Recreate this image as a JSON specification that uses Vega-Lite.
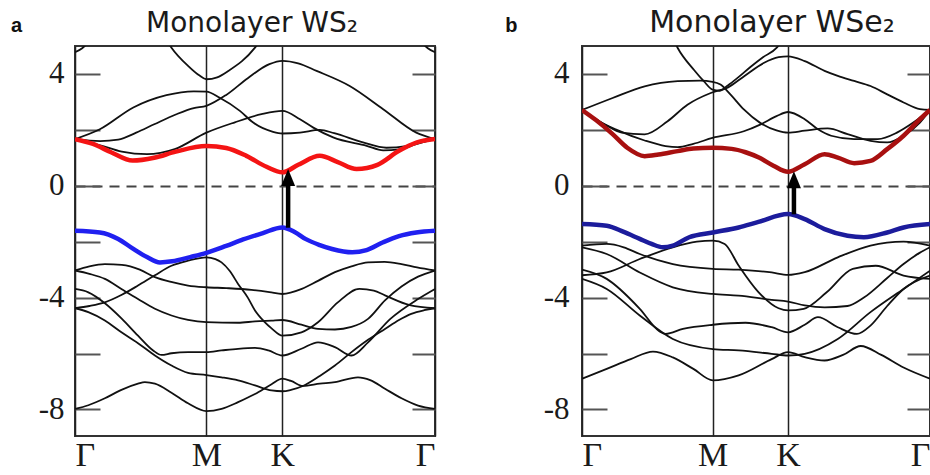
{
  "$schema": "https://vega.github.io/schema/vega-lite/v6.json",
  "background": "white",
  "padding": {"left": 9, "top": 7, "right": 0, "bottom": 0},
  "spacing": 66,
  "config": {
    "view": {"stroke": "#333333", "strokeWidth": 2},
    "title": {"font": "DejaVu Sans", "fontWeight": "normal", "color": "#1a1a1a", "anchor": "middle"},
    "axis": {"labelFont": "Liberation Serif", "labelColor": "#1a1a1a", "titleFont": "Liberation Sans", "titleFontWeight": "bold", "titleFontSize": 20, "titleColor": "#111111", "titleAngle": 0, "titleAlign": "left", "titleBaseline": "alphabetic"},
    "axisX": {"labelFlush": true, "labelFontSize": 34, "labelPadding": 2, "ticks": false, "domain": false, "grid": true, "gridColor": "#222222", "gridWidth": 1.5, "gridOpacity": 1, "title": null}
  },
  "hconcat": [
    {
      "width": 360,
      "height": 390,
      "title": {"text": "Monolayer WS₂", "fontSize": 28, "offset": -23, "dx": -3},
      "data": {"values": [
        {"b":"R","t":"r","k":0,"E":1.67},{"b":"R","t":"r","k":0.05,"E":1.5},{"b":"R","t":"r","k":0.1,"E":1.2},{"b":"R","t":"r","k":0.16,"E":0.9},{"b":"R","t":"r","k":0.22,"E":1.0},{"b":"R","t":"r","k":0.28,"E":1.22},{"b":"R","t":"r","k":0.365,"E":1.42},{"b":"R","t":"r","k":0.42,"E":1.35},{"b":"R","t":"r","k":0.476,"E":1.07},{"b":"R","t":"r","k":0.532,"E":0.68},{"b":"R","t":"r","k":0.576,"E":0.48},{"b":"R","t":"r","k":0.62,"E":0.75},{"b":"R","t":"r","k":0.68,"E":1.07},{"b":"R","t":"r","k":0.73,"E":0.85},{"b":"R","t":"r","k":0.782,"E":0.6},{"b":"R","t":"r","k":0.84,"E":0.75},{"b":"R","t":"r","k":0.9,"E":1.25},{"b":"R","t":"r","k":0.95,"E":1.55},{"b":"R","t":"r","k":1,"E":1.67},
        {"b":"A","t":"k","k":0,"E":1.67},{"b":"A","t":"k","k":0.069,"E":2.02},{"b":"A","t":"k","k":0.162,"E":2.8},{"b":"A","t":"k","k":0.254,"E":3.24},{"b":"A","t":"k","k":0.33,"E":3.38},{"b":"A","t":"k","k":0.365,"E":3.37},{"b":"A","t":"k","k":0.402,"E":3.15},{"b":"A","t":"k","k":0.458,"E":2.68},{"b":"A","t":"k","k":0.495,"E":2.26},{"b":"A","t":"k","k":0.55,"E":1.93},{"b":"A","t":"k","k":0.576,"E":1.87},{"b":"A","t":"k","k":0.625,"E":1.9},{"b":"A","t":"k","k":0.68,"E":2.0},{"b":"A","t":"k","k":0.72,"E":1.88},{"b":"A","t":"k","k":0.8,"E":1.55},{"b":"A","t":"k","k":0.865,"E":1.36},{"b":"A","t":"k","k":0.92,"E":1.42},{"b":"A","t":"k","k":0.96,"E":1.55},{"b":"A","t":"k","k":1,"E":1.67},
        {"b":"B","t":"k","k":0,"E":1.67},{"b":"B","t":"k","k":0.07,"E":1.6},{"b":"B","t":"k","k":0.12,"E":1.65},{"b":"B","t":"k","k":0.17,"E":1.9},{"b":"B","t":"k","k":0.22,"E":2.2},{"b":"B","t":"k","k":0.28,"E":2.55},{"b":"B","t":"k","k":0.33,"E":2.78},{"b":"B","t":"k","k":0.365,"E":2.86},{"b":"B","t":"k","k":0.42,"E":3.25},{"b":"B","t":"k","k":0.48,"E":3.85},{"b":"B","t":"k","k":0.54,"E":4.35},{"b":"B","t":"k","k":0.576,"E":4.47},{"b":"B","t":"k","k":0.62,"E":4.38},{"b":"B","t":"k","k":0.671,"E":4.11},{"b":"B","t":"k","k":0.763,"E":3.57},{"b":"B","t":"k","k":0.856,"E":2.74},{"b":"B","t":"k","k":0.948,"E":1.9},{"b":"B","t":"k","k":1,"E":1.67},
        {"b":"C","t":"k","k":0,"E":1.67},{"b":"C","t":"k","k":0.07,"E":1.45},{"b":"C","t":"k","k":0.13,"E":1.22},{"b":"C","t":"k","k":0.2,"E":1.13},{"b":"C","t":"k","k":0.277,"E":1.31},{"b":"C","t":"k","k":0.365,"E":1.9},{"b":"C","t":"k","k":0.444,"E":2.27},{"b":"C","t":"k","k":0.518,"E":2.56},{"b":"C","t":"k","k":0.576,"E":2.68},{"b":"C","t":"k","k":0.625,"E":2.38},{"b":"C","t":"k","k":0.662,"E":2.08},{"b":"C","t":"k","k":0.717,"E":1.73},{"b":"C","t":"k","k":0.81,"E":1.43},{"b":"C","t":"k","k":0.856,"E":1.27},{"b":"C","t":"k","k":0.9,"E":1.3},{"b":"C","t":"k","k":0.948,"E":1.49},{"b":"C","t":"k","k":1,"E":1.67},
        {"b":"P","t":"k","k":0.25,"E":5.3},{"b":"P","t":"k","k":0.268,"E":4.94},{"b":"P","t":"k","k":0.314,"E":4.29},{"b":"P","t":"k","k":0.345,"E":3.95},{"b":"P","t":"k","k":0.365,"E":3.81},{"b":"P","t":"k","k":0.395,"E":3.88},{"b":"P","t":"k","k":0.426,"E":4.11},{"b":"P","t":"k","k":0.5,"E":4.94},{"b":"P","t":"k","k":0.52,"E":5.3},
        {"b":"TL","t":"k","k":0,"E":4.78},{"b":"TL","t":"k","k":0.02,"E":4.92},{"b":"TL","t":"k","k":0.035,"E":5.1},
        {"b":"TR","t":"k","k":0.965,"E":5.1},{"b":"TR","t":"k","k":0.98,"E":4.92},{"b":"TR","t":"k","k":1,"E":4.78},
        {"b":"U","t":"u","k":0,"E":-1.61},{"b":"U","t":"u","k":0.069,"E":-1.67},{"b":"U","t":"u","k":0.12,"E":-1.9},{"b":"U","t":"u","k":0.162,"E":-2.26},{"b":"U","t":"u","k":0.2,"E":-2.55},{"b":"U","t":"u","k":0.236,"E":-2.74},{"b":"U","t":"u","k":0.27,"E":-2.7},{"b":"U","t":"u","k":0.32,"E":-2.55},{"b":"U","t":"u","k":0.365,"E":-2.4},{"b":"U","t":"u","k":0.42,"E":-2.15},{"b":"U","t":"u","k":0.467,"E":-1.92},{"b":"U","t":"u","k":0.52,"E":-1.7},{"b":"U","t":"u","k":0.576,"E":-1.49},{"b":"U","t":"u","k":0.61,"E":-1.65},{"b":"U","t":"u","k":0.64,"E":-1.9},{"b":"U","t":"u","k":0.68,"E":-2.12},{"b":"U","t":"u","k":0.714,"E":-2.26},{"b":"U","t":"u","k":0.77,"E":-2.38},{"b":"U","t":"u","k":0.81,"E":-2.3},{"b":"U","t":"u","k":0.856,"E":-2.02},{"b":"U","t":"u","k":0.9,"E":-1.8},{"b":"U","t":"u","k":0.948,"E":-1.67},{"b":"U","t":"u","k":1,"E":-1.61},
        {"b":"V2","t":"k","k":0,"E":-3.03},{"b":"V2","t":"k","k":0.04,"E":-2.88},{"b":"V2","t":"k","k":0.083,"E":-2.8},{"b":"V2","t":"k","k":0.13,"E":-2.83},{"b":"V2","t":"k","k":0.18,"E":-3.0},{"b":"V2","t":"k","k":0.222,"E":-3.27},{"b":"V2","t":"k","k":0.27,"E":-3.45},{"b":"V2","t":"k","k":0.314,"E":-3.57},{"b":"V2","t":"k","k":0.365,"E":-3.63},{"b":"V2","t":"k","k":0.42,"E":-3.66},{"b":"V2","t":"k","k":0.49,"E":-3.72},{"b":"V2","t":"k","k":0.54,"E":-3.8},{"b":"V2","t":"k","k":0.576,"E":-3.87},{"b":"V2","t":"k","k":0.63,"E":-3.69},{"b":"V2","t":"k","k":0.675,"E":-3.4},{"b":"V2","t":"k","k":0.722,"E":-3.09},{"b":"V2","t":"k","k":0.768,"E":-2.88},{"b":"V2","t":"k","k":0.814,"E":-2.74},{"b":"V2","t":"k","k":0.86,"E":-2.72},{"b":"V2","t":"k","k":0.907,"E":-2.8},{"b":"V2","t":"k","k":0.95,"E":-2.92},{"b":"V2","t":"k","k":1,"E":-3.03},
        {"b":"V3","t":"k","k":0,"E":-3.03},{"b":"V3","t":"k","k":0.04,"E":-3.15},{"b":"V3","t":"k","k":0.083,"E":-3.33},{"b":"V3","t":"k","k":0.13,"E":-3.7},{"b":"V3","t":"k","k":0.175,"E":-4.05},{"b":"V3","t":"k","k":0.222,"E":-4.4},{"b":"V3","t":"k","k":0.268,"E":-4.64},{"b":"V3","t":"k","k":0.314,"E":-4.8},{"b":"V3","t":"k","k":0.365,"E":-4.88},{"b":"V3","t":"k","k":0.453,"E":-4.9},{"b":"V3","t":"k","k":0.5,"E":-4.85},{"b":"V3","t":"k","k":0.546,"E":-4.82},{"b":"V3","t":"k","k":0.576,"E":-4.8},{"b":"V3","t":"k","k":0.629,"E":-4.97},{"b":"V3","t":"k","k":0.675,"E":-5.12},{"b":"V3","t":"k","k":0.722,"E":-5.14},{"b":"V3","t":"k","k":0.768,"E":-5.05},{"b":"V3","t":"k","k":0.814,"E":-4.76},{"b":"V3","t":"k","k":0.861,"E":-4.1},{"b":"V3","t":"k","k":0.907,"E":-3.6},{"b":"V3","t":"k","k":0.953,"E":-3.25},{"b":"V3","t":"k","k":1,"E":-3.03},
        {"b":"V4","t":"k","k":0,"E":-4.38},{"b":"V4","t":"k","k":0.04,"E":-4.3},{"b":"V4","t":"k","k":0.083,"E":-4.17},{"b":"V4","t":"k","k":0.13,"E":-3.9},{"b":"V4","t":"k","k":0.175,"E":-3.57},{"b":"V4","t":"k","k":0.222,"E":-3.2},{"b":"V4","t":"k","k":0.268,"E":-2.86},{"b":"V4","t":"k","k":0.314,"E":-2.68},{"b":"V4","t":"k","k":0.365,"E":-2.56},{"b":"V4","t":"k","k":0.39,"E":-2.62},{"b":"V4","t":"k","k":0.407,"E":-2.74},{"b":"V4","t":"k","k":0.43,"E":-3.05},{"b":"V4","t":"k","k":0.453,"E":-3.51},{"b":"V4","t":"k","k":0.48,"E":-4.0},{"b":"V4","t":"k","k":0.5,"E":-4.46},{"b":"V4","t":"k","k":0.525,"E":-4.85},{"b":"V4","t":"k","k":0.546,"E":-5.1},{"b":"V4","t":"k","k":0.576,"E":-5.36},{"b":"V4","t":"k","k":0.629,"E":-5.24},{"b":"V4","t":"k","k":0.675,"E":-4.88},{"b":"V4","t":"k","k":0.73,"E":-4.17},{"b":"V4","t":"k","k":0.79,"E":-3.69},{"b":"V4","t":"k","k":0.83,"E":-3.75},{"b":"V4","t":"k","k":0.861,"E":-3.92},{"b":"V4","t":"k","k":0.93,"E":-4.27},{"b":"V4","t":"k","k":1,"E":-4.38},
        {"b":"V5","t":"k","k":0,"E":-3.69},{"b":"V5","t":"k","k":0.037,"E":-3.81},{"b":"V5","t":"k","k":0.083,"E":-4.2},{"b":"V5","t":"k","k":0.129,"E":-4.74},{"b":"V5","t":"k","k":0.175,"E":-5.36},{"b":"V5","t":"k","k":0.218,"E":-5.9},{"b":"V5","t":"k","k":0.24,"E":-6.05},{"b":"V5","t":"k","k":0.268,"E":-5.99},{"b":"V5","t":"k","k":0.314,"E":-5.95},{"b":"V5","t":"k","k":0.365,"E":-5.95},{"b":"V5","t":"k","k":0.407,"E":-5.89},{"b":"V5","t":"k","k":0.453,"E":-5.83},{"b":"V5","t":"k","k":0.5,"E":-5.8},{"b":"V5","t":"k","k":0.537,"E":-5.89},{"b":"V5","t":"k","k":0.576,"E":-6.07},{"b":"V5","t":"k","k":0.629,"E":-5.83},{"b":"V5","t":"k","k":0.675,"E":-5.6},{"b":"V5","t":"k","k":0.722,"E":-5.77},{"b":"V5","t":"k","k":0.768,"E":-6.07},{"b":"V5","t":"k","k":0.814,"E":-5.6},{"b":"V5","t":"k","k":0.876,"E":-4.76},{"b":"V5","t":"k","k":0.953,"E":-4.05},{"b":"V5","t":"k","k":1,"E":-3.69},
        {"b":"V6","t":"k","k":0,"E":-4.38},{"b":"V6","t":"k","k":0.037,"E":-4.52},{"b":"V6","t":"k","k":0.083,"E":-4.82},{"b":"V6","t":"k","k":0.129,"E":-5.24},{"b":"V6","t":"k","k":0.175,"E":-5.63},{"b":"V6","t":"k","k":0.222,"E":-6.07},{"b":"V6","t":"k","k":0.268,"E":-6.43},{"b":"V6","t":"k","k":0.314,"E":-6.69},{"b":"V6","t":"k","k":0.365,"E":-6.77},{"b":"V6","t":"k","k":0.407,"E":-6.85},{"b":"V6","t":"k","k":0.453,"E":-6.96},{"b":"V6","t":"k","k":0.5,"E":-7.14},{"b":"V6","t":"k","k":0.546,"E":-7.32},{"b":"V6","t":"k","k":0.576,"E":-7.35},{"b":"V6","t":"k","k":0.6,"E":-7.3},{"b":"V6","t":"k","k":0.633,"E":-7.16},{"b":"V6","t":"k","k":0.68,"E":-6.8},{"b":"V6","t":"k","k":0.722,"E":-6.43},{"b":"V6","t":"k","k":0.768,"E":-5.95},{"b":"V6","t":"k","k":0.815,"E":-5.5},{"b":"V6","t":"k","k":0.861,"E":-5.12},{"b":"V6","t":"k","k":0.9,"E":-4.8},{"b":"V6","t":"k","k":0.934,"E":-4.58},{"b":"V6","t":"k","k":0.97,"E":-4.45},{"b":"V6","t":"k","k":1,"E":-4.38},
        {"b":"V7","t":"k","k":0,"E":-7.98},{"b":"V7","t":"k","k":0.037,"E":-7.85},{"b":"V7","t":"k","k":0.083,"E":-7.6},{"b":"V7","t":"k","k":0.129,"E":-7.3},{"b":"V7","t":"k","k":0.175,"E":-7.08},{"b":"V7","t":"k","k":0.194,"E":-7.02},{"b":"V7","t":"k","k":0.222,"E":-7.08},{"b":"V7","t":"k","k":0.268,"E":-7.4},{"b":"V7","t":"k","k":0.314,"E":-7.78},{"b":"V7","t":"k","k":0.365,"E":-8.06},{"b":"V7","t":"k","k":0.407,"E":-7.98},{"b":"V7","t":"k","k":0.453,"E":-7.74},{"b":"V7","t":"k","k":0.5,"E":-7.45},{"b":"V7","t":"k","k":0.546,"E":-7.1},{"b":"V7","t":"k","k":0.576,"E":-6.9},{"b":"V7","t":"k","k":0.6,"E":-6.98},{"b":"V7","t":"k","k":0.633,"E":-7.16},{"b":"V7","t":"k","k":0.68,"E":-7.08},{"b":"V7","t":"k","k":0.722,"E":-7.02},{"b":"V7","t":"k","k":0.786,"E":-6.85},{"b":"V7","t":"k","k":0.82,"E":-6.95},{"b":"V7","t":"k","k":0.861,"E":-7.26},{"b":"V7","t":"k","k":0.907,"E":-7.6},{"b":"V7","t":"k","k":0.953,"E":-7.86},{"b":"V7","t":"k","k":1,"E":-7.98}
      ]},
      "resolve": {"axis": {"y": "independent"}},
      "layer": [
        {
          "transform": [{"filter": "datum.t == 'k'"}],
          "mark": {"type": "line", "interpolate": "monotone", "color": "#111111", "strokeWidth": 1.8, "clip": true},
          "encoding": {
            "x": {"field": "k", "type": "quantitative", "scale": {"domain": [0, 1], "nice": false, "zero": false},
              "axis": {"values": [0, 0.365, 0.576, 1], "labelExpr": "datum.value == 0 || datum.value == 1 ? 'Γ' : (datum.value < 0.5 ? 'M' : 'K')"}},
            "y": {"field": "E", "type": "quantitative", "scale": {"domain": [-8.95, 5], "nice": false, "zero": false},
              "axis": {"orient": "left", "values": [-8, -6, -4, -2, 0, 2, 4], "labelExpr": "datum.value % 4 == 0 ? toString(datum.value) : ''", "labelFontSize": 31, "labelPadding": 36, "tickSize": -25, "tickWidth": 2, "tickColor": "#555555", "domain": false, "grid": true, "gridDash": [10, 7], "gridColor": "#444444", "gridWidth": 2, "gridOpacity": {"condition": {"test": "datum.value === 0", "value": 1}, "value": 0}, "title": "a", "titleX": -64.5, "titleY": -14.7}},
            "detail": {"field": "b"}
          }
        },
        {
          "transform": [{"filter": "datum.t == 'r'"}],
          "mark": {"type": "line", "interpolate": "monotone", "color": "#f41414", "strokeWidth": 4.5, "clip": true},
          "encoding": {
            "x": {"field": "k", "type": "quantitative", "scale": {"domain": [0, 1], "nice": false, "zero": false},
              "axis": {"values": [0, 0.365, 0.576, 1], "labelExpr": "datum.value == 0 || datum.value == 1 ? 'Γ' : (datum.value < 0.5 ? 'M' : 'K')"}},
            "y": {"field": "E", "type": "quantitative", "scale": {"domain": [-8.95, 5], "nice": false, "zero": false},
              "axis": {"orient": "right", "values": [-8, -6, -4, -2, 0, 2, 4], "labels": false, "tickSize": -23, "tickWidth": 2, "tickColor": "#555555", "domain": false, "grid": false, "title": null}}
          }
        },
        {
          "transform": [{"filter": "datum.t == 'u'"}],
          "mark": {"type": "line", "interpolate": "monotone", "color": "#2020f0", "strokeWidth": 4.5, "clip": true},
          "encoding": {
            "x": {"field": "k", "type": "quantitative", "scale": {"domain": [0, 1], "nice": false, "zero": false},
              "axis": {"values": [0, 0.365, 0.576, 1], "labelExpr": "datum.value == 0 || datum.value == 1 ? 'Γ' : (datum.value < 0.5 ? 'M' : 'K')"}},
            "y": {"field": "E", "type": "quantitative", "scale": {"domain": [-8.95, 5], "nice": false, "zero": false}, "axis": null}
          }
        },
        {
          "data": {"values": [{"k": 0.592, "E": -1.5, "E2": 0.05}]},
          "mark": {"type": "rule", "color": "#000000", "strokeWidth": 4.5},
          "encoding": {
            "x": {"field": "k", "type": "quantitative", "scale": {"domain": [0, 1], "nice": false, "zero": false},
              "axis": {"values": [0, 0.365, 0.576, 1], "labelExpr": "datum.value == 0 || datum.value == 1 ? 'Γ' : (datum.value < 0.5 ? 'M' : 'K')"}},
            "y": {"field": "E", "type": "quantitative", "scale": {"domain": [-8.95, 5], "nice": false, "zero": false}, "axis": null},
            "y2": {"field": "E2"}
          }
        },
        {
          "data": {"values": [{"k": 0.592, "E": 0.3}]},
          "mark": {"type": "point", "shape": "M0,-0.85L0.7,0.85L-0.7,0.85Z", "size": 400, "filled": true, "color": "#000000", "opacity": 1},
          "encoding": {
            "x": {"field": "k", "type": "quantitative", "scale": {"domain": [0, 1], "nice": false, "zero": false},
              "axis": {"values": [0, 0.365, 0.576, 1], "labelExpr": "datum.value == 0 || datum.value == 1 ? 'Γ' : (datum.value < 0.5 ? 'M' : 'K')"}},
            "y": {"field": "E", "type": "quantitative", "scale": {"domain": [-8.95, 5], "nice": false, "zero": false}, "axis": null}
          }
        }
      ]
    },
    {
      "width": 348,
      "height": 390,
      "title": {"text": "Monolayer WSe₂", "fontSize": 30, "offset": -23, "dx": 16},
      "data": {"values": [
        {"b":"R","t":"r","k":0,"E":2.71},{"b":"R","t":"r","k":0.04,"E":2.35},{"b":"R","t":"r","k":0.088,"E":1.85},{"b":"R","t":"r","k":0.13,"E":1.36},{"b":"R","t":"r","k":0.18,"E":1.06},{"b":"R","t":"r","k":0.22,"E":1.12},{"b":"R","t":"r","k":0.275,"E":1.24},{"b":"R","t":"r","k":0.32,"E":1.33},{"b":"R","t":"r","k":0.375,"E":1.36},{"b":"R","t":"r","k":0.43,"E":1.32},{"b":"R","t":"r","k":0.47,"E":1.2},{"b":"R","t":"r","k":0.51,"E":1.0},{"b":"R","t":"r","k":0.55,"E":0.72},{"b":"R","t":"r","k":0.592,"E":0.5},{"b":"R","t":"r","k":0.64,"E":0.77},{"b":"R","t":"r","k":0.697,"E":1.13},{"b":"R","t":"r","k":0.735,"E":1.01},{"b":"R","t":"r","k":0.782,"E":0.81},{"b":"R","t":"r","k":0.829,"E":0.89},{"b":"R","t":"r","k":0.877,"E":1.31},{"b":"R","t":"r","k":0.924,"E":1.79},{"b":"R","t":"r","k":0.971,"E":2.38},{"b":"R","t":"r","k":1,"E":2.71},
        {"b":"A","t":"k","k":0,"E":2.71},{"b":"A","t":"k","k":0.088,"E":3.14},{"b":"A","t":"k","k":0.18,"E":3.56},{"b":"A","t":"k","k":0.275,"E":3.74},{"b":"A","t":"k","k":0.34,"E":3.76},{"b":"A","t":"k","k":0.375,"E":3.72},{"b":"A","t":"k","k":0.398,"E":3.62},{"b":"A","t":"k","k":0.427,"E":3.26},{"b":"A","t":"k","k":0.465,"E":2.73},{"b":"A","t":"k","k":0.512,"E":2.25},{"b":"A","t":"k","k":0.559,"E":1.98},{"b":"A","t":"k","k":0.592,"E":1.9},{"b":"A","t":"k","k":0.64,"E":1.97},{"b":"A","t":"k","k":0.706,"E":2.05},{"b":"A","t":"k","k":0.763,"E":1.85},{"b":"A","t":"k","k":0.829,"E":1.61},{"b":"A","t":"k","k":0.877,"E":1.55},{"b":"A","t":"k","k":0.924,"E":1.79},{"b":"A","t":"k","k":0.971,"E":2.26},{"b":"A","t":"k","k":1,"E":2.71},
        {"b":"B","t":"k","k":0,"E":2.71},{"b":"B","t":"k","k":0.066,"E":2.19},{"b":"B","t":"k","k":0.114,"E":1.9},{"b":"B","t":"k","k":0.18,"E":1.84},{"b":"B","t":"k","k":0.246,"E":2.31},{"b":"B","t":"k","k":0.303,"E":2.9},{"b":"B","t":"k","k":0.37,"E":3.32},{"b":"B","t":"k","k":0.42,"E":3.52},{"b":"B","t":"k","k":0.466,"E":3.92},{"b":"B","t":"k","k":0.522,"E":4.39},{"b":"B","t":"k","k":0.565,"E":4.6},{"b":"B","t":"k","k":0.592,"E":4.63},{"b":"B","t":"k","k":0.64,"E":4.46},{"b":"B","t":"k","k":0.697,"E":4.11},{"b":"B","t":"k","k":0.735,"E":3.93},{"b":"B","t":"k","k":0.782,"E":3.75},{"b":"B","t":"k","k":0.829,"E":3.57},{"b":"B","t":"k","k":0.877,"E":3.27},{"b":"B","t":"k","k":0.924,"E":2.98},{"b":"B","t":"k","k":0.971,"E":2.74},{"b":"B","t":"k","k":1,"E":2.71},
        {"b":"C","t":"k","k":0,"E":2.71},{"b":"C","t":"k","k":0.05,"E":2.3},{"b":"C","t":"k","k":0.1,"E":2.0},{"b":"C","t":"k","k":0.18,"E":1.62},{"b":"C","t":"k","k":0.24,"E":1.42},{"b":"C","t":"k","k":0.275,"E":1.38},{"b":"C","t":"k","k":0.32,"E":1.5},{"b":"C","t":"k","k":0.375,"E":1.71},{"b":"C","t":"k","k":0.465,"E":1.95},{"b":"C","t":"k","k":0.512,"E":2.19},{"b":"C","t":"k","k":0.559,"E":2.49},{"b":"C","t":"k","k":0.592,"E":2.64},{"b":"C","t":"k","k":0.64,"E":2.38},{"b":"C","t":"k","k":0.678,"E":2.02},{"b":"C","t":"k","k":0.716,"E":1.79},{"b":"C","t":"k","k":0.782,"E":1.67},{"b":"C","t":"k","k":0.85,"E":1.67},{"b":"C","t":"k","k":0.905,"E":1.9},{"b":"C","t":"k","k":0.952,"E":2.26},{"b":"C","t":"k","k":1,"E":2.71},
        {"b":"P","t":"k","k":0.26,"E":5.3},{"b":"P","t":"k","k":0.275,"E":4.93},{"b":"P","t":"k","k":0.322,"E":4.14},{"b":"P","t":"k","k":0.35,"E":3.74},{"b":"P","t":"k","k":0.375,"E":3.44},{"b":"P","t":"k","k":0.395,"E":3.4},{"b":"P","t":"k","k":0.42,"E":3.6},{"b":"P","t":"k","k":0.446,"E":3.85},{"b":"P","t":"k","k":0.484,"E":4.25},{"b":"P","t":"k","k":0.52,"E":4.6},{"b":"P","t":"k","k":0.559,"E":4.93},{"b":"P","t":"k","k":0.58,"E":5.3},
        {"b":"U","t":"u","k":0,"E":-1.37},{"b":"U","t":"u","k":0.071,"E":-1.43},{"b":"U","t":"u","k":0.12,"E":-1.65},{"b":"U","t":"u","k":0.166,"E":-1.9},{"b":"U","t":"u","k":0.2,"E":-2.08},{"b":"U","t":"u","k":0.232,"E":-2.2},{"b":"U","t":"u","k":0.261,"E":-2.14},{"b":"U","t":"u","k":0.308,"E":-1.84},{"b":"U","t":"u","k":0.376,"E":-1.67},{"b":"U","t":"u","k":0.45,"E":-1.49},{"b":"U","t":"u","k":0.507,"E":-1.29},{"b":"U","t":"u","k":0.592,"E":-1.01},{"b":"U","t":"u","k":0.64,"E":-1.19},{"b":"U","t":"u","k":0.697,"E":-1.55},{"b":"U","t":"u","k":0.763,"E":-1.79},{"b":"U","t":"u","k":0.81,"E":-1.84},{"b":"U","t":"u","k":0.877,"E":-1.67},{"b":"U","t":"u","k":0.924,"E":-1.49},{"b":"U","t":"u","k":1,"E":-1.37},
        {"b":"V2","t":"k","k":0,"E":-2.14},{"b":"V2","t":"k","k":0.071,"E":-2.08},{"b":"V2","t":"k","k":0.12,"E":-2.2},{"b":"V2","t":"k","k":0.166,"E":-2.44},{"b":"V2","t":"k","k":0.261,"E":-2.8},{"b":"V2","t":"k","k":0.376,"E":-2.97},{"b":"V2","t":"k","k":0.45,"E":-3.0},{"b":"V2","t":"k","k":0.545,"E":-3.1},{"b":"V2","t":"k","k":0.592,"E":-3.19},{"b":"V2","t":"k","k":0.64,"E":-3.09},{"b":"V2","t":"k","k":0.735,"E":-2.56},{"b":"V2","t":"k","k":0.829,"E":-2.14},{"b":"V2","t":"k","k":0.924,"E":-2.0},{"b":"V2","t":"k","k":1,"E":-2.14},
        {"b":"V3","t":"k","k":0,"E":-2.2},{"b":"V3","t":"k","k":0.071,"E":-2.44},{"b":"V3","t":"k","k":0.166,"E":-3.1},{"b":"V3","t":"k","k":0.261,"E":-3.63},{"b":"V3","t":"k","k":0.376,"E":-3.87},{"b":"V3","t":"k","k":0.45,"E":-3.93},{"b":"V3","t":"k","k":0.545,"E":-4.08},{"b":"V3","t":"k","k":0.592,"E":-4.14},{"b":"V3","t":"k","k":0.64,"E":-4.28},{"b":"V3","t":"k","k":0.697,"E":-4.35},{"b":"V3","t":"k","k":0.763,"E":-4.3},{"b":"V3","t":"k","k":0.81,"E":-4.0},{"b":"V3","t":"k","k":0.877,"E":-3.3},{"b":"V3","t":"k","k":0.924,"E":-2.8},{"b":"V3","t":"k","k":0.97,"E":-2.4},{"b":"V3","t":"k","k":1,"E":-2.2},
        {"b":"V4","t":"k","k":0,"E":-3.2},{"b":"V4","t":"k","k":0.071,"E":-3.1},{"b":"V4","t":"k","k":0.166,"E":-2.62},{"b":"V4","t":"k","k":0.261,"E":-2.2},{"b":"V4","t":"k","k":0.33,"E":-2.0},{"b":"V4","t":"k","k":0.376,"E":-1.96},{"b":"V4","t":"k","k":0.41,"E":-2.08},{"b":"V4","t":"k","k":0.45,"E":-2.85},{"b":"V4","t":"k","k":0.507,"E":-3.8},{"b":"V4","t":"k","k":0.565,"E":-4.38},{"b":"V4","t":"k","k":0.592,"E":-4.46},{"b":"V4","t":"k","k":0.637,"E":-4.4},{"b":"V4","t":"k","k":0.703,"E":-3.81},{"b":"V4","t":"k","k":0.778,"E":-2.97},{"b":"V4","t":"k","k":0.844,"E":-2.86},{"b":"V4","t":"k","k":0.924,"E":-3.21},{"b":"V4","t":"k","k":1,"E":-3.33},
        {"b":"V5","t":"k","k":0,"E":-3.0},{"b":"V5","t":"k","k":0.071,"E":-3.33},{"b":"V5","t":"k","k":0.166,"E":-4.4},{"b":"V5","t":"k","k":0.222,"E":-5.2},{"b":"V5","t":"k","k":0.24,"E":-5.3},{"b":"V5","t":"k","k":0.29,"E":-5.12},{"b":"V5","t":"k","k":0.376,"E":-4.97},{"b":"V5","t":"k","k":0.47,"E":-4.9},{"b":"V5","t":"k","k":0.545,"E":-5.06},{"b":"V5","t":"k","k":0.592,"E":-5.24},{"b":"V5","t":"k","k":0.64,"E":-4.97},{"b":"V5","t":"k","k":0.678,"E":-4.7},{"b":"V5","t":"k","k":0.735,"E":-5.06},{"b":"V5","t":"k","k":0.79,"E":-5.3},{"b":"V5","t":"k","k":0.829,"E":-5.0},{"b":"V5","t":"k","k":0.877,"E":-4.3},{"b":"V5","t":"k","k":0.924,"E":-3.69},{"b":"V5","t":"k","k":1,"E":-3.21},
        {"b":"V6","t":"k","k":0,"E":-3.33},{"b":"V6","t":"k","k":0.071,"E":-3.69},{"b":"V6","t":"k","k":0.166,"E":-4.64},{"b":"V6","t":"k","k":0.261,"E":-5.48},{"b":"V6","t":"k","k":0.376,"E":-5.84},{"b":"V6","t":"k","k":0.45,"E":-5.89},{"b":"V6","t":"k","k":0.545,"E":-6.01},{"b":"V6","t":"k","k":0.592,"E":-6.07},{"b":"V6","t":"k","k":0.64,"E":-6.01},{"b":"V6","t":"k","k":0.735,"E":-5.48},{"b":"V6","t":"k","k":0.829,"E":-4.52},{"b":"V6","t":"k","k":0.924,"E":-3.69},{"b":"V6","t":"k","k":1,"E":-3.04},
        {"b":"V7","t":"k","k":0,"E":-6.9},{"b":"V7","t":"k","k":0.071,"E":-6.55},{"b":"V7","t":"k","k":0.14,"E":-6.2},{"b":"V7","t":"k","k":0.204,"E":-5.93},{"b":"V7","t":"k","k":0.261,"E":-6.14},{"b":"V7","t":"k","k":0.32,"E":-6.55},{"b":"V7","t":"k","k":0.376,"E":-6.96},{"b":"V7","t":"k","k":0.45,"E":-6.78},{"b":"V7","t":"k","k":0.545,"E":-6.2},{"b":"V7","t":"k","k":0.592,"E":-5.95},{"b":"V7","t":"k","k":0.64,"E":-6.13},{"b":"V7","t":"k","k":0.697,"E":-6.25},{"b":"V7","t":"k","k":0.75,"E":-6.05},{"b":"V7","t":"k","k":0.801,"E":-5.73},{"b":"V7","t":"k","k":0.86,"E":-6.05},{"b":"V7","t":"k","k":0.924,"E":-6.5},{"b":"V7","t":"k","k":1,"E":-6.9}
      ]},
      "resolve": {"axis": {"y": "independent"}},
      "layer": [
        {
          "transform": [{"filter": "datum.t == 'k'"}],
          "mark": {"type": "line", "interpolate": "monotone", "color": "#111111", "strokeWidth": 1.8, "clip": true},
          "encoding": {
            "x": {"field": "k", "type": "quantitative", "scale": {"domain": [0, 1], "nice": false, "zero": false},
              "axis": {"values": [0, 0.375, 0.592, 1], "labelExpr": "datum.value == 0 || datum.value == 1 ? 'Γ' : (datum.value < 0.5 ? 'M' : 'K')"}},
            "y": {"field": "E", "type": "quantitative", "scale": {"domain": [-8.95, 5], "nice": false, "zero": false},
              "axis": {"orient": "left", "values": [-8, -6, -4, -2, 0, 2, 4], "labelExpr": "datum.value % 4 == 0 ? toString(datum.value) : ''", "labelFontSize": 31, "labelPadding": 38, "tickSize": -25, "tickWidth": 2, "tickColor": "#555555", "domain": false, "grid": true, "gridDash": [10, 7], "gridColor": "#444444", "gridWidth": 2, "gridOpacity": {"condition": {"test": "datum.value === 0", "value": 1}, "value": 0}, "title": "b", "titleX": -77.3, "titleY": -15}},
            "detail": {"field": "b"}
          }
        },
        {
          "transform": [{"filter": "datum.t == 'r'"}],
          "mark": {"type": "line", "interpolate": "monotone", "color": "#a81010", "strokeWidth": 4.5, "clip": true},
          "encoding": {
            "x": {"field": "k", "type": "quantitative", "scale": {"domain": [0, 1], "nice": false, "zero": false},
              "axis": {"values": [0, 0.375, 0.592, 1], "labelExpr": "datum.value == 0 || datum.value == 1 ? 'Γ' : (datum.value < 0.5 ? 'M' : 'K')"}},
            "y": {"field": "E", "type": "quantitative", "scale": {"domain": [-8.95, 5], "nice": false, "zero": false},
              "axis": {"orient": "right", "values": [-8, -6, -4, -2, 0, 2, 4], "labels": false, "tickSize": -23, "tickWidth": 2, "tickColor": "#555555", "domain": false, "grid": false, "title": null}}
          }
        },
        {
          "transform": [{"filter": "datum.t == 'u'"}],
          "mark": {"type": "line", "interpolate": "monotone", "color": "#1c1c9c", "strokeWidth": 4.5, "clip": true},
          "encoding": {
            "x": {"field": "k", "type": "quantitative", "scale": {"domain": [0, 1], "nice": false, "zero": false},
              "axis": {"values": [0, 0.375, 0.592, 1], "labelExpr": "datum.value == 0 || datum.value == 1 ? 'Γ' : (datum.value < 0.5 ? 'M' : 'K')"}},
            "y": {"field": "E", "type": "quantitative", "scale": {"domain": [-8.95, 5], "nice": false, "zero": false}, "axis": null}
          }
        },
        {
          "data": {"values": [{"k": 0.609, "E": -1.02, "E2": 0.0}]},
          "mark": {"type": "rule", "color": "#000000", "strokeWidth": 4.5},
          "encoding": {
            "x": {"field": "k", "type": "quantitative", "scale": {"domain": [0, 1], "nice": false, "zero": false},
              "axis": {"values": [0, 0.375, 0.592, 1], "labelExpr": "datum.value == 0 || datum.value == 1 ? 'Γ' : (datum.value < 0.5 ? 'M' : 'K')"}},
            "y": {"field": "E", "type": "quantitative", "scale": {"domain": [-8.95, 5], "nice": false, "zero": false}, "axis": null},
            "y2": {"field": "E2"}
          }
        },
        {
          "data": {"values": [{"k": 0.609, "E": 0.22}]},
          "mark": {"type": "point", "shape": "M0,-0.85L0.7,0.85L-0.7,0.85Z", "size": 400, "filled": true, "color": "#000000", "opacity": 1},
          "encoding": {
            "x": {"field": "k", "type": "quantitative", "scale": {"domain": [0, 1], "nice": false, "zero": false},
              "axis": {"values": [0, 0.375, 0.592, 1], "labelExpr": "datum.value == 0 || datum.value == 1 ? 'Γ' : (datum.value < 0.5 ? 'M' : 'K')"}},
            "y": {"field": "E", "type": "quantitative", "scale": {"domain": [-8.95, 5], "nice": false, "zero": false}, "axis": null}
          }
        }
      ]
    }
  ]
}
